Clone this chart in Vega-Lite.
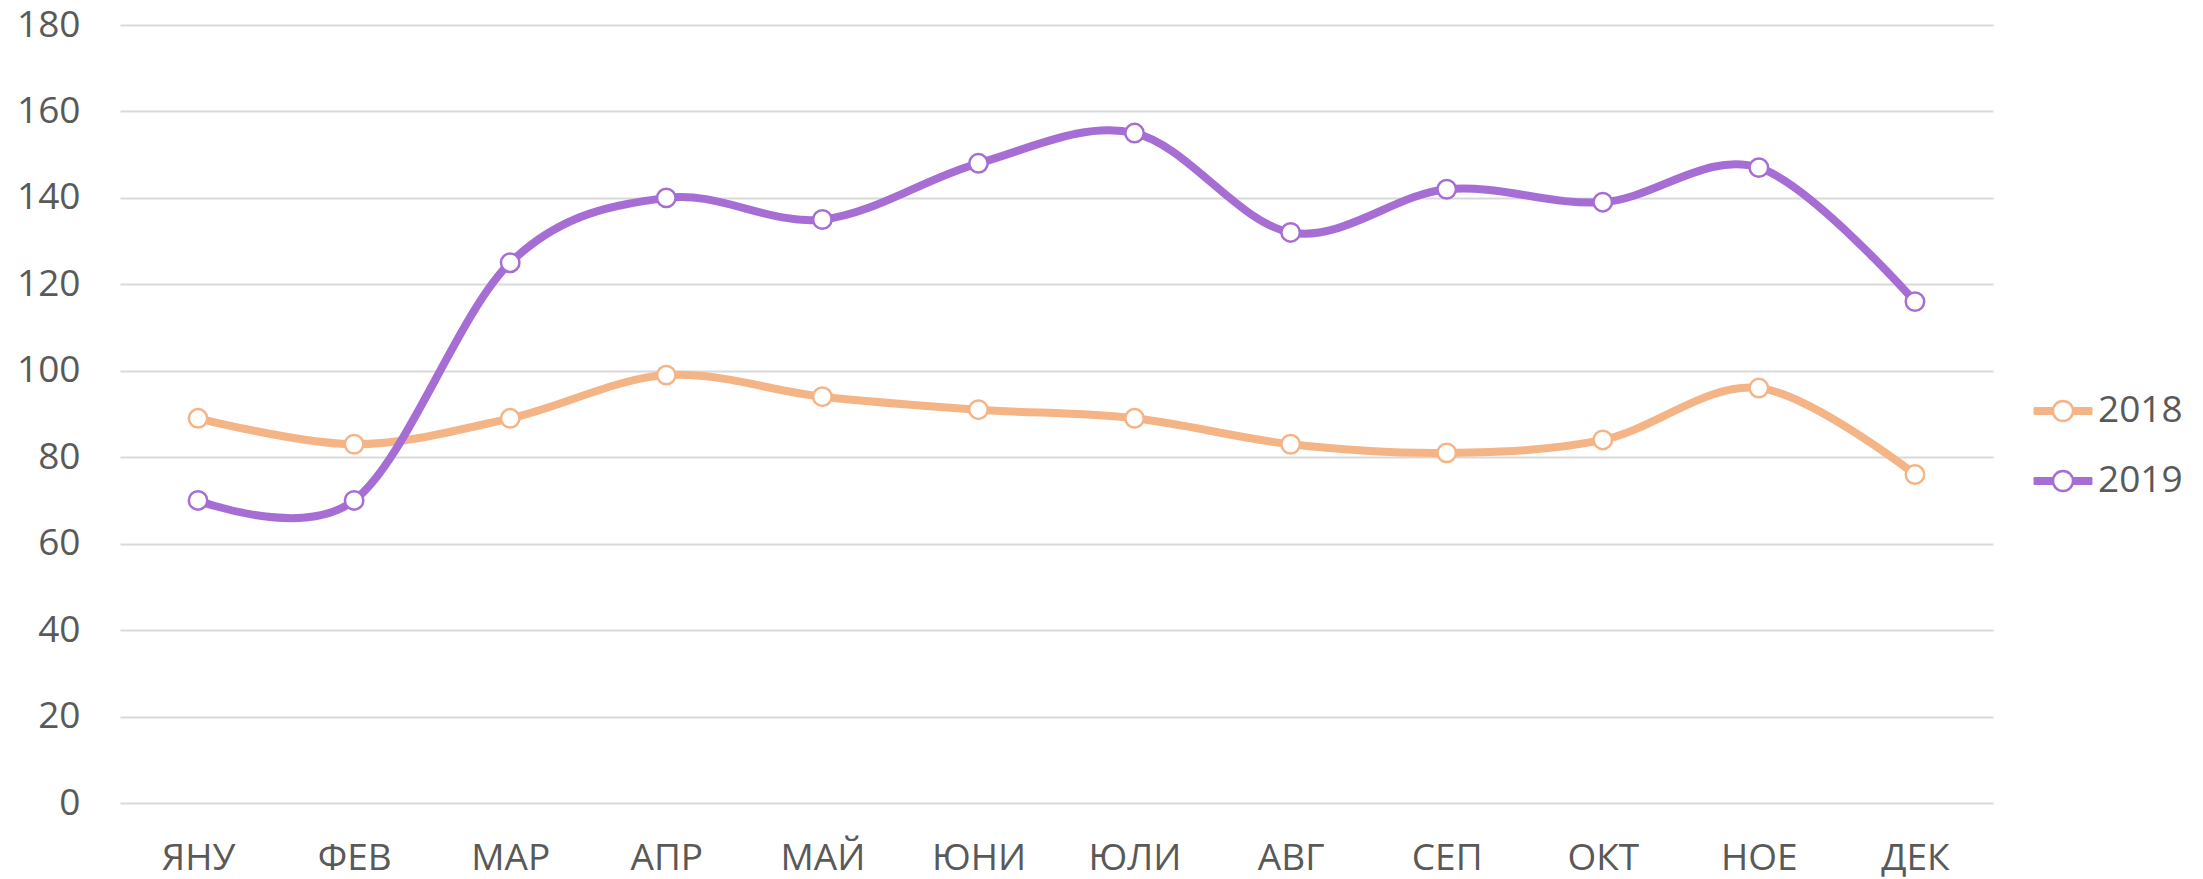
{
  "$schema": "https://vega.github.io/schema/vega-lite/v6.json",
  "width": 1873,
  "height": 778,
  "autosize": {"type": "none"},
  "padding": {"left": 120, "top": 25, "right": 210, "bottom": 76},
  "background": "white",
  "config": {
    "view": {"stroke": null},
    "font": "Open Sans",
    "axis": {"labelFont": "Open Sans", "labelFontSize": 37, "labelColor": "#595959", "domain": false, "ticks": false, "tickSize": 0, "title": null},
    "legend": {"labelFont": "Open Sans", "labelFontSize": 37, "labelColor": "#595959"}
  },
  "data": {
    "values": [
      {"month": "ЯНУ", "year": "2018", "value": 89},
      {"month": "ФЕВ", "year": "2018", "value": 83},
      {"month": "МАР", "year": "2018", "value": 89},
      {"month": "АПР", "year": "2018", "value": 99},
      {"month": "МАЙ", "year": "2018", "value": 94},
      {"month": "ЮНИ", "year": "2018", "value": 91},
      {"month": "ЮЛИ", "year": "2018", "value": 89},
      {"month": "АВГ", "year": "2018", "value": 83},
      {"month": "СЕП", "year": "2018", "value": 81},
      {"month": "ОКТ", "year": "2018", "value": 84},
      {"month": "НОЕ", "year": "2018", "value": 96},
      {"month": "ДЕК", "year": "2018", "value": 76},
      {"month": "ЯНУ", "year": "2019", "value": 70},
      {"month": "ФЕВ", "year": "2019", "value": 70},
      {"month": "МАР", "year": "2019", "value": 125},
      {"month": "АПР", "year": "2019", "value": 140},
      {"month": "МАЙ", "year": "2019", "value": 135},
      {"month": "ЮНИ", "year": "2019", "value": 148},
      {"month": "ЮЛИ", "year": "2019", "value": 155},
      {"month": "АВГ", "year": "2019", "value": 132},
      {"month": "СЕП", "year": "2019", "value": 142},
      {"month": "ОКТ", "year": "2019", "value": 139},
      {"month": "НОЕ", "year": "2019", "value": 147},
      {"month": "ДЕК", "year": "2019", "value": 116}
    ]
  },
  "encoding": {
    "x": {
      "field": "month", "type": "nominal",
      "sort": ["ЯНУ", "ФЕВ", "МАР", "АПР", "МАЙ", "ЮНИ", "ЮЛИ", "АВГ", "СЕП", "ОКТ", "НОЕ", "ДЕК"],
      "scale": {"type": "point", "padding": 0.5},
      "axis": {"labelAngle": 0, "labelPadding": 37, "grid": false}
    },
    "y": {
      "field": "value", "type": "quantitative",
      "scale": {"domain": [0, 180], "nice": false},
      "axis": {"values": [0, 20, 40, 60, 80, 100, 120, 140, 160, 180], "labelPadding": 40, "grid": true, "gridColor": "#D9D9D9", "gridWidth": 2}
    },
    "color": {
      "field": "year", "type": "nominal",
      "scale": {"domain": ["2018", "2019"], "range": ["#F4B485", "#A66ED4"]},
      "legend": {
        "title": null,
        "orient": "none",
        "legendX": 1912,
        "legendY": 355,
        "symbolType": "M-0.96,-0.093H-0.34 M-0.96,-0.047H-0.34 M-0.96,0H-0.34 M-0.96,0.047H-0.34 M-0.96,0.093H-0.34 M0.34,-0.093H0.96 M0.34,-0.047H0.96 M0.34,0H0.96 M0.34,0.047H0.96 M0.34,0.093H0.96 M0.34,0A0.34,0.34 0 1 1 -0.34,0A0.34,0.34 0 1 1 0.34,0Z",
        "symbolSize": 3481,
        "symbolStrokeWidth": 2.5,
        "symbolFillColor": "white",
        "labelOffset": 4,
        "rowPadding": 21,
        "encode": {"symbols": {"update": {"fill": {"value": "white"}, "strokeWidth": {"value": 2.5}, "strokeCap": {"value": "round"}}}}
      }
    }
  },
  "layer": [
    {"mark": {"type": "line", "interpolate": "cardinal", "strokeWidth": 8, "strokeCap": "round"}},
    {"mark": {"type": "point", "shape": "circle", "size": 340, "filled": false, "fill": "white", "strokeWidth": 2.5, "opacity": 1}}
  ]
}
